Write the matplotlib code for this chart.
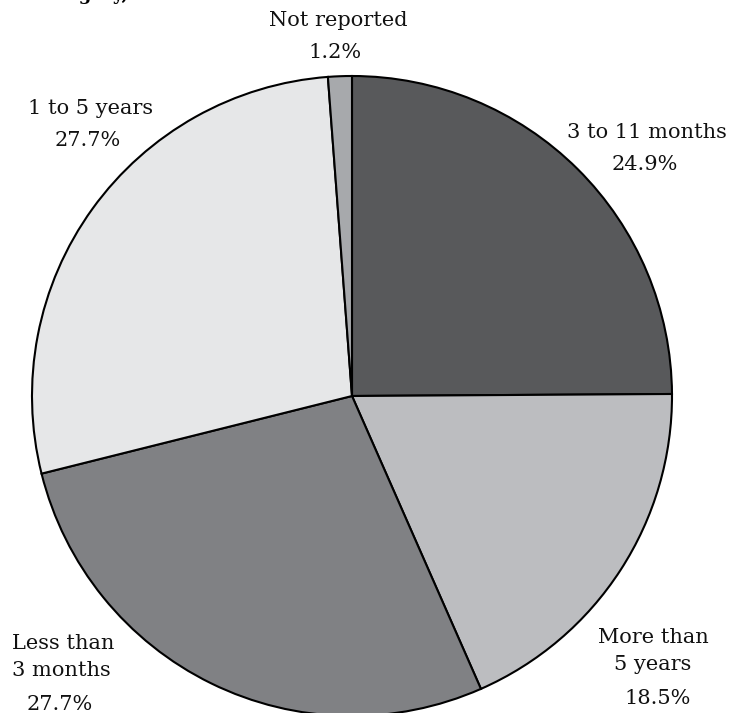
import matplotlib.pyplot as plt

labels = ["3 to 11 months", "More than\n5 years", "Less than\n3 months", "1 to 5 years", "Not reported"]
shares = [24.9, 18.5, 27.7, 27.7, 1.2]
colors = ["#58595b", "#bcbdc0", "#808184", "#e6e7e8", "#a7a9ac"]

W, H = 734, 713
fig = plt.figure(figsize=(W / 100, H / 100), dpi=100)
ax = fig.add_axes([0, 0, 1, 1])

# pie in pixel-like coordinates (y measured from the bottom)
cx, cy, r = 352, H - 396, 320
ax.pie(shares, colors=colors, startangle=90, counterclock=False,
       center=(cx, cy), radius=r, frame=True,
       wedgeprops=dict(edgecolor="black", linewidth=1.5))
ax.set_xlim(0, W)
ax.set_ylim(0, H)
ax.set_aspect("equal")
ax.axis("off")

font = dict(family="DejaVu Serif", fontsize=15, color="#111111")

# label placement: (name x, name y, pct x, pct y, align) in pixels from top-left
spots = [
    (647, 132, 645, 164, "center"),
    (653, 651, 658, 698, "center"),
    (12, 657, 60, 705, "left"),
    (91, 108, 88, 140, "center"),
    (338, 20, 335, 53, "center"),
]
for lab, val, (nx, ny, px, py, ha) in zip(labels, shares, spots):
    ax.text(nx, H - ny, lab, ha=ha, va="center", linespacing=1.5, **font)
    ax.text(px, H - py, f"{val}%", ha="center", va="center", **font)

# heading runs off the top edge
fig.text(0.045, 1.0, "Category, 1999", ha="left", va="baseline",
         family="DejaVu Serif", fontsize=13, fontweight="bold")

fig.savefig("out.png", dpi=100)
